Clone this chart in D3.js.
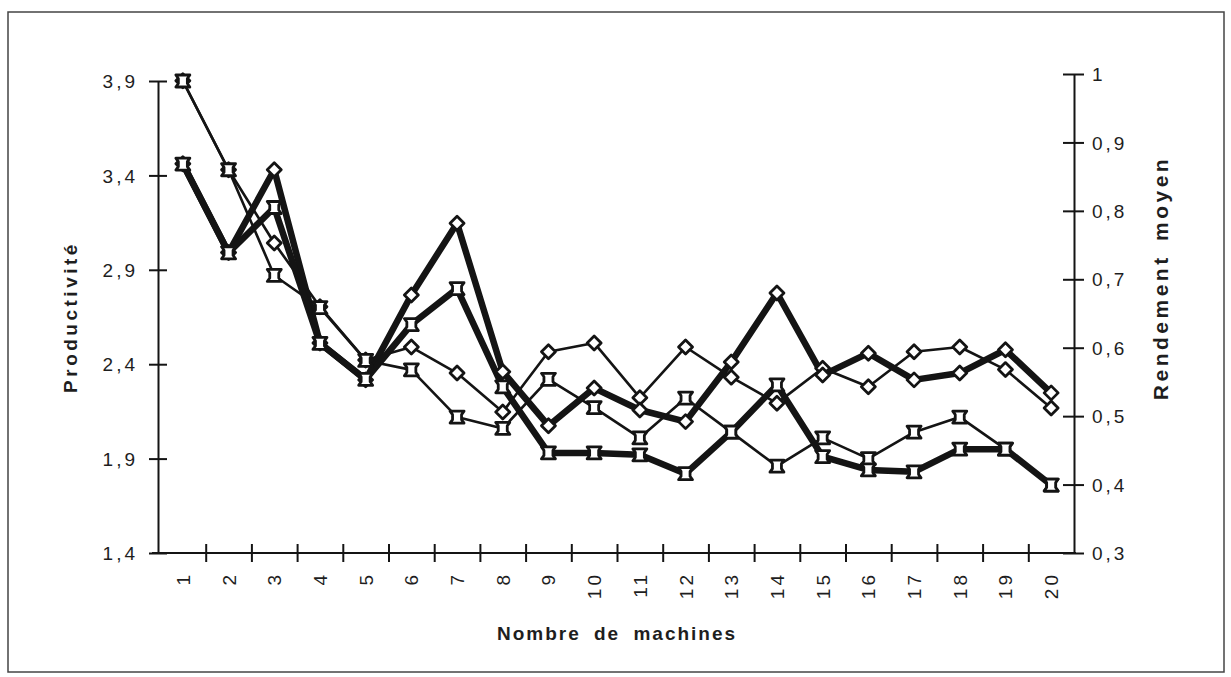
<!DOCTYPE html>
<html>
<head>
<meta charset="utf-8">
<script src="https://cdn.jsdelivr.net/npm/d3@7"></script>
<style>
  body { margin: 0; background: #fff; }
  svg { display: block; font-family: "Liberation Sans", Arial, Helvetica, sans-serif; }
</style>
</head>
<body>
<svg id="chart" width="1231" height="677"></svg>
<script>
// number of machines
const machines = [1, 2, 3, 4, 5, 6, 7, 8, 9, 10, 11, 12, 13, 14, 15, 16, 17, 18, 19, 20];

// productivity (left axis) - hourglass markers
const prodThin  = [3.90, 3.43, 2.87, 2.70, 2.42, 2.37, 2.12, 2.06, 2.32, 2.17, 2.01, 2.22, 2.04, 1.86, 2.01, 1.90, 2.04, 2.12, 1.95, 1.76];
const prodThick = [3.46, 2.99, 3.23, 2.51, 2.32, 2.61, 2.80, 2.28, 1.93, 1.93, 1.92, 1.82, 2.04, 2.29, 1.91, 1.84, 1.83, 1.95, 1.95, 1.76];

// rendement moyen (right axis) - diamond markers
const rendThin  = [0.99, 0.86, 0.753, 0.66, 0.582, 0.601, 0.563, 0.506, 0.594, 0.607, 0.527, 0.601, 0.557, 0.519, 0.570, 0.543, 0.594, 0.601, 0.568, 0.512];
const rendThick = [0.869, 0.739, 0.86, 0.607, 0.553, 0.677, 0.782, 0.565, 0.486, 0.541, 0.509, 0.492, 0.579, 0.680, 0.560, 0.592, 0.553, 0.563, 0.597, 0.534];

const prodTicks = [1.4, 1.9, 2.4, 2.9, 3.4, 3.9];
const rendTicks = [0.3, 0.4, 0.5, 0.6, 0.7, 0.8, 0.9, 1];

const svg = d3.select('#chart');
const ink = '#141414';

// outer frame
svg.append('rect')
    .attr('x', 8).attr('y', 12)
    .attr('width', 1216).attr('height', 660)
    .attr('fill', 'none').attr('stroke', '#444').attr('stroke-width', 1.5);

const left = 158, right = 1074, bottom = 553;

const x = d3.scaleBand().domain(machines).range([160, 1074]).paddingInner(0).paddingOuter(0);
const xEdge = d3.scaleLinear().domain([0, machines.length]).range([160, 1074]);
const yL = d3.scaleLinear().domain([1.4, 3.9]).range([bottom, 81]);
const yR = d3.scaleLinear().domain([0.3, 1]).range([bottom, 74]);
const cx = d => x(d) + x.bandwidth() / 2;

const comma = d => (d === 1 ? '1' : d3.format('.1f')(d).replace('.', ','));

// left axis
const gL = svg.append('g')
    .attr('transform', `translate(${left},0)`)
    .call(d3.axisLeft(yL).tickValues(prodTicks).tickFormat(comma).tickSizeOuter(0));
gL.select('.domain').attr('stroke', ink).attr('stroke-width', 2);
gL.selectAll('.tick line').attr('x1', -9).attr('x2', 9).attr('stroke', ink).attr('stroke-width', 2);
gL.selectAll('.tick text')
    .attr('x', -20).attr('dy', '0.35em')
    .attr('font-size', 19).attr('letter-spacing', 3).attr('fill', '#1e1e1e')
    .attr('font-family', '"Liberation Sans", Arial, sans-serif');

// right axis
const gR = svg.append('g')
    .attr('transform', `translate(${right},0)`)
    .call(d3.axisRight(yR).tickValues(rendTicks).tickFormat(comma).tickSizeOuter(0));
gR.select('.domain').attr('stroke', ink).attr('stroke-width', 2);
gR.selectAll('.tick line').attr('x1', -11).attr('x2', 10).attr('stroke', ink).attr('stroke-width', 2);
gR.selectAll('.tick text')
    .attr('x', 18).attr('dy', '0.35em')
    .attr('font-size', 19).attr('letter-spacing', 3).attr('fill', '#1e1e1e')
    .attr('font-family', '"Liberation Sans", Arial, sans-serif');

// bottom axis: ticks on band edges, labels centered and rotated
const gX = svg.append('g')
    .attr('transform', `translate(0,${bottom})`)
    .call(d3.axisBottom(xEdge).ticks(machines.length).tickFormat('').tickSizeOuter(0));
gX.select('.domain').attr('d', `M152,0H${right + 2}`).attr('stroke', ink).attr('stroke-width', 2);
gX.selectAll('.tick line').attr('y1', -9).attr('y2', 9).attr('stroke', ink).attr('stroke-width', 2);
gX.selectAll('.tick').filter(d => d === 0 || d === machines.length).remove();

svg.append('g').selectAll('text')
    .data(machines)
    .join('text')
    .attr('transform', d => `translate(${cx(d) + 7},572) rotate(-90)`)
    .attr('text-anchor', 'end')
    .attr('font-size', 19).attr('letter-spacing', 3).attr('fill', '#1e1e1e')
    .text(d => d);

// axis titles
svg.append('text')
    .attr('transform', 'translate(77,317) rotate(-90)')
    .attr('text-anchor', 'middle')
    .attr('font-size', 19).attr('font-weight', 'bold').attr('letter-spacing', 3.5)
    .attr('fill', '#1e1e1e')
    .text('Productivité');

svg.append('text')
    .attr('transform', 'translate(1168,278) rotate(-90)')
    .attr('text-anchor', 'middle')
    .attr('font-size', 21).attr('font-weight', 'bold').attr('letter-spacing', 3.5)
    .attr('word-spacing', 4).attr('fill', '#1e1e1e')
    .text('Rendement moyen');

svg.append('text')
    .attr('x', 617).attr('y', 640)
    .attr('text-anchor', 'middle')
    .attr('font-size', 19).attr('font-weight', 'bold').attr('letter-spacing', 2)
    .attr('word-spacing', 6).attr('fill', '#1e1e1e')
    .text('Nombre de machines');

// series
const series = [
    { values: rendThin,  y: yR, width: 2.6, marker: 'diamond' },
    { values: prodThin,  y: yL, width: 2.6, marker: 'hourglass' },
    { values: rendThick, y: yR, width: 6.5, marker: 'diamond' },
    { values: prodThick, y: yL, width: 6.5, marker: 'hourglass' }
];

const hourglass = 'M-7,-6L7,-6L4.5,-2.5L4.5,2.5L7,6L-7,6L-4.5,2.5L-4.5,-2.5Z';
const diamond = 'M0,-7L7,0L0,7L-7,0Z';

const line = (s) => d3.line()
    .x((d, i) => cx(machines[i]))
    .y(d => s.y(d));

series.forEach(s => {
    svg.append('path')
        .datum(s.values)
        .attr('d', line(s))
        .attr('fill', 'none')
        .attr('stroke', ink)
        .attr('stroke-width', s.width)
        .attr('stroke-linejoin', 'round')
        .attr('stroke-linecap', 'round');
});

series.forEach(s => {
    svg.append('g').selectAll('path')
        .data(s.values)
        .join('path')
        .attr('transform', (d, i) => `translate(${cx(machines[i])},${s.y(d)})`)
        .attr('d', s.marker === 'diamond' ? diamond : hourglass)
        .attr('fill', '#fff')
        .attr('stroke', ink)
        .attr('stroke-width', 2.8)
        .attr('stroke-linejoin', 'round');
});
</script>
</body>
</html>
